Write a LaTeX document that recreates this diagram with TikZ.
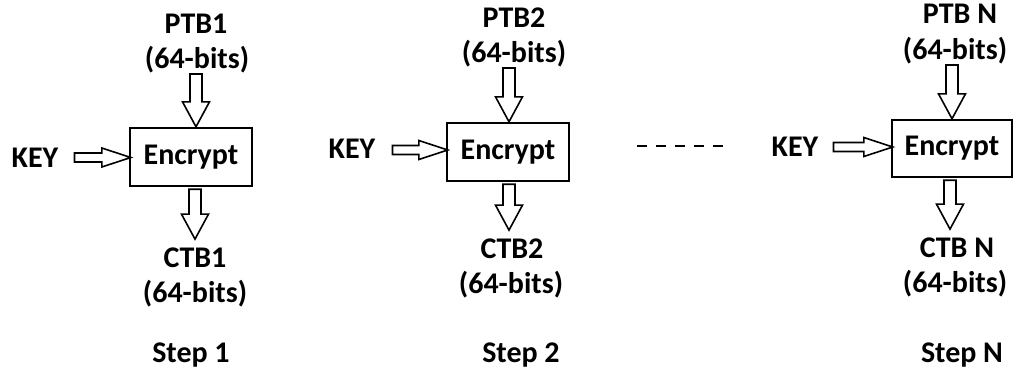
\documentclass[tikz,border=0pt]{standalone}
\usepackage{fontspec}
\setmainfont{Carlito}
\usetikzlibrary{calc}
\begin{document}
\begin{tikzpicture}[x=1pt,y=-1pt,
  txt/.style={font=\fontsize{30}{33}\selectfont\bfseries, inner sep=0pt, anchor=base},
  encbox/.style={draw, line width=2.4pt, minimum width=122pt, minimum height=58pt, inner sep=0pt, font=\fontsize{30}{33}\selectfont\bfseries},
  downarrow/.style={draw, line width=1.6pt, line join=miter, to path={let \p1=(\tikztostart), \p2=(\tikztotarget) in
     (\x1-6pt,\y1) -- (\x1-6pt,\y2+25pt) -- (\x1-13.5pt,\y2+25pt) -- (\x1,\y2) -- (\x1+13.5pt,\y2+25pt) -- (\x1+6pt,\y2+25pt) -- (\x1+6pt,\y1) -- cycle}},
  rightarrow/.style={draw, line width=1.6pt, line join=miter, to path={let \p1=(\tikztostart), \p2=(\tikztotarget) in
     (\x1,\y1+4.5pt) -- (\x2-29pt,\y1+4.5pt) -- (\x2-29pt,\y1+9.5pt) -- (\x2,\y1) -- (\x2-29pt,\y1-9.5pt) -- (\x2-29pt,\y1-4.5pt) -- (\x1,\y1-4.5pt) -- cycle}},
  dots/.style={line width=1.6pt, dash pattern=on 10pt off 9pt}
]
\useasboundingbox (0,0) rectangle (1013,373);

% Step 1
\node[txt] (p1a) at (196,33) {PTB1};
\node[txt] (p1b) at (197,68) {(64-bits)};
\node[encbox] (b1) at (191,157) {Encrypt};
\node[txt] (k1) at (35,167) {KEY};
\node[txt] (c1a) at (195,267) {CTB1};
\node[txt] (c1b) at (195,302) {(64-bits)};
\node[txt] (s1) at (191,362) {Step 1};
\draw[downarrow] ([xshift=-1pt,yshift=-6pt]p1b.base) to (b1.north);
\draw[downarrow] ([yshift=-2pt]b1.south -| c1a.base) to ([yshift=8pt]c1a.north);
\draw[rightarrow] ([xshift=16pt,yshift=9.5pt]k1.base east) to ([xshift=2pt]b1.west);

% Step 2
\node[txt] (p2a) at (514,27) {PTB2};
\node[txt] (p2b) at (514,62) {(64-bits)};
\node[encbox] (b2) at (508,152) {Encrypt};
\node[txt] (k2) at (352,158) {KEY};
\node[txt] (c2a) at (512,258) {CTB2};
\node[txt] (c2b) at (511,293) {(64-bits)};
\node[txt] (s2) at (521,362) {Step 2};
\draw[downarrow] ([xshift=-5pt,yshift=-6pt]p2b.base) to (b2.north);
\draw[downarrow] ([xshift=1pt,yshift=-2pt]b2.south) to ([yshift=8pt]c2a.north);
\draw[rightarrow] ([xshift=17pt,yshift=8pt]k2.base east) to ([xshift=2pt]b2.west);

% dashes
\coordinate (d1) at (637,146);
\coordinate (d2) at (723,146);
\draw[dots] (d1) -- (d2);

% Step N
\node[txt] (pna) at (960,23) {PTB N};
\node[txt] (pnb) at (955,59) {(64-bits)};
\node[encbox, minimum width=120pt, minimum height=57pt] (bn) at (952,148.5) {Encrypt};
\node[txt] (kn) at (795,156) {KEY};
\node[txt] (cna) at (957,257) {CTB N};
\node[txt] (cnb) at (955,292) {(64-bits)};
\node[txt] (sn) at (962,362) {Step N};
\draw[downarrow] ([xshift=-3pt,yshift=-6pt]pnb.base) to (bn.north);
\draw[downarrow] ([xshift=-2pt,yshift=-2pt]bn.south) to ([yshift=8pt]cna.north);
\draw[rightarrow] ([xshift=15pt,yshift=9pt]kn.base east) to ([xshift=2pt]bn.west);
\end{tikzpicture}
\end{document}
